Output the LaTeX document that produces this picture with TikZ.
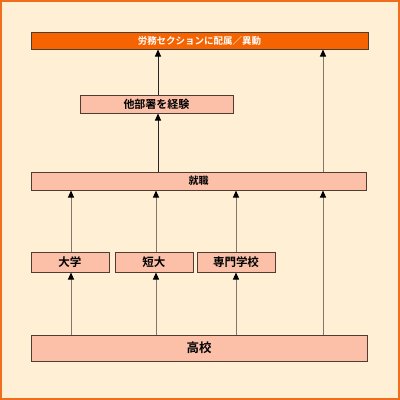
\documentclass[tikz,border=0pt]{standalone}
\usepackage{fontspec}
\newfontfamily\jp{Noto Sans CJK JP Bold}
\usetikzlibrary{arrows.meta}
\definecolor{bg}{RGB}{255,239,213}
\definecolor{frame}{RGB}{240,110,30}
\definecolor{boxfill}{RGB}{252,192,168}
\definecolor{topfill}{RGB}{245,100,0}
\definecolor{edge}{RGB}{80,60,50}
\definecolor{lineg}{RGB}{130,120,105}
\tikzset{
  box/.style={draw=edge, line width=1pt, fill=boxfill, inner sep=0pt, font=\jp},
  conn/.style={draw=lineg, line width=1pt, -{Triangle[width=6pt,length=7pt,color=black]}},
  connk/.style={conn, draw=black!85}
}
\begin{document}
\begin{tikzpicture}[x=1pt,y=-1pt]
\useasboundingbox (0,0) rectangle (400,400);
\fill[bg] (0,0) rectangle (400,400);
\draw[frame, line width=2pt] (1,1) rectangle (399,399);
% boxes
\node[box, fill=topfill, text=white, minimum width=337pt, minimum height=17pt, font=\jp\fontsize{9.5}{10}\selectfont] (top) at (199.5,40.5) {労務セクションに配属／異動};
\node[box, minimum width=153pt, minimum height=18pt, font=\jp\fontsize{11}{12}\selectfont] (other) at (156.5,104) {他部署を経験};
\node[box, minimum width=335pt, minimum height=18pt, font=\jp\fontsize{10}{11}\selectfont] (job) at (198.5,181) {就職};
\node[box, minimum width=78pt, minimum height=20pt, font=\jp\fontsize{11.5}{12}\selectfont] (univ) at (70,262) {大学};
\node[box, minimum width=78pt, minimum height=20pt, font=\jp\fontsize{11.5}{12}\selectfont] (jc) at (154,262) {短大};
\node[box, minimum width=78pt, minimum height=20pt, font=\jp\fontsize{11.5}{12}\selectfont] (voc) at (236,262) {専門学校};
\node[box, minimum width=336pt, minimum height=26pt, font=\jp\fontsize{12.5}{13}\selectfont] (hs) at (199,348) {高校};
% arrows from high school
\draw[conn] (hs.north -| 71,0) -- (univ.south -| 71,0);
\draw[conn] (hs.north -| 156,0) -- (jc.south -| 156,0);
\draw[conn] (hs.north -| 236,0) -- (voc.south -| 236,0);
\draw[conn] (hs.north -| 323,0) -- (job.south -| 323,0);
% arrows into job
\draw[conn] (univ.north -| 71,0) -- (job.south -| 71,0);
\draw[conn] (jc.north -| 156,0) -- (job.south -| 156,0);
\draw[conn] (voc.north -| 236,0) -- (job.south -| 236,0);
% upper
\draw[connk] (job.north -| 158,0) -- (other.south -| 158,0);
\draw[connk] (other.north -| 158,0) -- (top.south -| 158,0);
\draw[conn] (job.north -| 323,0) -- (top.south -| 323,0);
\end{tikzpicture}
\end{document}
